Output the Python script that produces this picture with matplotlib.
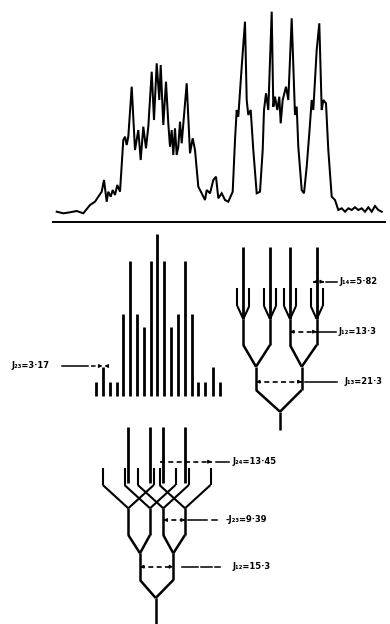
import matplotlib
matplotlib.use("Agg")
import matplotlib.pyplot as plt

# ---------------- data (pixel units) ----------------
# experimental spectrum trace
trace_x = [56.7, 63.3, 70, 76.7, 83.3, 90, 95, 98.3, 101.7, 104, 106.7, 108.3, 110.7, 112.7, 115,
           117.3, 120, 123.3, 125, 126.7, 128.3, 131.7, 135, 138.3, 140.7, 143.3, 146, 148.3, 151.7,
           154, 156.7, 159.3, 160.7, 163.3, 166, 168.3, 170, 171.7, 173.3, 175, 176.7, 178.3, 180,
           181.7, 186.7, 190, 192.7, 195, 198.3, 201.7, 205, 206.7, 210, 213.3, 216, 218.3, 221.7,
           225, 228.3, 232.7, 235, 236.7, 238.3, 241.7, 245, 246.7, 248.3, 250.7, 253.3, 256.7, 260,
           262.7, 264, 266, 268.3, 271.7, 273.3, 275, 277.3, 279.3, 280.7, 282.7, 286, 288.3, 291.7,
           295, 296.7, 298.3, 301.7, 304, 306.7, 309.3, 311.7, 313.3, 316.7, 319.3, 321.7, 323.3,
           326, 328.3, 331.7, 335, 338.3, 341.7, 345, 348.3, 351.7, 355, 358.3, 361.7, 365, 368.3,
           371.7, 375, 378.3, 381.7]
trace_y = [211.7, 213.3, 212.3, 211, 213.3, 205, 201.7, 196.7, 191.7, 180, 201.7, 191.7, 196.7,
           190, 195, 185, 191.7, 140, 136.7, 145, 136.7, 86.7, 150, 130, 160, 126.7, 148.3, 126.7,
           71.7, 120, 63.3, 100, 65, 125, 81.7, 123.3, 146.7, 130, 155, 128.3, 155, 146.7, 121.7,
           143.3, 83.3, 153.3, 138.3, 150, 186.7, 193.3, 200, 190, 193.3, 180, 176.7, 198.3, 193.3,
           200, 201.7, 191.7, 140, 110, 116.7, 66.7, 21.7, 100, 115, 110, 150, 193.3, 191.7, 150,
           110, 93.3, 110, 11.7, 106.7, 96.7, 110, 96.7, 123.3, 100, 86.7, 100, 18.3, 115, 106.7,
           146.7, 190, 193.3, 166.7, 133.3, 100, 110, 50, 23.3, 110, 100, 103.3, 150, 196.7, 200,
           210, 208.3, 211.7, 208.3, 210, 207.3, 210, 208.3, 211.7, 207.3, 211.7, 206, 210, 211.7]
baseline_x = [53, 385]
baseline_y = 221.7

# calculated stick spectrum
stick_pos = [96, 103.3, 110, 116.7, 123.3, 130, 136.7, 144, 150.7, 157.3,
             164, 170.7, 178.3, 185, 191.7, 198.3, 205, 212.5, 219.5]
stick_height = [14, 29, 14, 14, 82, 135, 82, 69, 135, 162,
                135, 69, 82, 135, 82, 14, 14, 29, 14]
stick_base = 396

# top-right splitting tree
top_root_x = 280
top_l1_x = [256, 301.7]
top_l2_x = [243.3, 270, 290, 316.7]
top_l2_parent = [0, 0, 1, 1]
top_prong = 6.0

# bottom splitting tree
bot_root_x = 155.7
bot_l1_x = [140, 173.3]
bot_l2_x = [128.3, 150, 163.3, 185]
bot_l2_parent = [0, 0, 1, 1]
bot_prong = 25.5

# coupling labels
labels = ["J₁₄=5·82", "J₁₂=13·3", "J₁₃=21·3", "J₂₃=3·17",
          "J₂₄=13·45", "-J₂₃=9·39", "J₁₂=15·3"]

# ---------------- layout ----------------
fig = plt.figure(figsize=(3.9, 6.24), dpi=100)
ax = fig.add_axes([0, 0, 1, 1])
ax.set_xlim(0, 390)
ax.set_ylim(624, 0)
ax.axis("off")

K = "black"
LW = 1.8
FS = 6.0
FAM = ["DejaVu Sans"]

# spectrum
ax.plot(trace_x, trace_y, color=K, lw=1.45, solid_joinstyle="miter")
ax.plot(baseline_x, [baseline_y, baseline_y], color=K, lw=1.4)

# sticks
ax.vlines(stick_pos, [stick_base - h for h in stick_height],
          [stick_base] * len(stick_pos), color=K, lw=2.0)


def seg(x0, y0, x1, y1, lw=LW):
    ax.plot([x0, x1], [y0, y1], color=K, lw=lw, solid_capstyle="butt")


# top tree geometry (y levels)
t_stem = (430, 411.7)
t_l1 = (390, 366.7)
t_l2 = (345, 319)
t_pr = (306, 288)
t_top = 246.7
seg(top_root_x, t_stem[0], top_root_x, t_stem[1])
for x in top_l1_x:
    seg(top_root_x, t_stem[1], x, t_l1[0])
    seg(x, t_l1[0], x, t_l1[1])
for x, p in zip(top_l2_x, top_l2_parent):
    seg(top_l1_x[p], t_l1[1], x, t_l2[0])
    seg(x, t_l2[0], x, t_l2[1])
    seg(x, t_l2[1], x, t_top, lw=2.0)
    for s in (-1, 1):
        seg(x, t_l2[1], x + s * top_prong, t_pr[0], lw=1.5)
        seg(x + s * top_prong, t_pr[0], x + s * top_prong, t_pr[1], lw=1.5)

# bottom tree geometry
b_stem = (624, 598)
b_l1 = (580, 553.3)
b_l2 = (535, 508.3)
b_pr = (485, 468.3)
b_center = (483, 427)
seg(bot_root_x, b_stem[0], bot_root_x, b_stem[1])
for x in bot_l1_x:
    seg(bot_root_x, b_stem[1], x, b_l1[0])
    seg(x, b_l1[0], x, b_l1[1])
for x, p in zip(bot_l2_x, bot_l2_parent):
    seg(bot_l1_x[p], b_l1[1], x, b_l2[0])
    seg(x, b_l2[0], x, b_l2[1])
    seg(x, b_center[0], x, b_center[1], lw=2.0)
    for s in (-1, 1):
        seg(x, b_l2[1], x + s * bot_prong, b_pr[0], lw=1.5)
        seg(x + s * bot_prong, b_pr[0], x + s * bot_prong, b_pr[1], lw=1.5)


def head(xe, y, direction):
    ax.annotate("", xy=(xe, y), xytext=(xe - direction * 4, y),
                arrowprops=dict(arrowstyle="-|>", color=K, lw=0.8,
                                mutation_scale=5, shrinkA=0, shrinkB=0))


def measure(x0, x1, y, leader, tx, text, heads=True):
    ax.plot([x0, x1], [y, y], color=K, lw=1.2, ls=(0, (3, 2)))
    if heads:
        head(x0, y, -1)
        head(x1, y, 1)
    for (a, b) in leader:
        ax.plot([a, b], [y, y], color=K, lw=1.1)
    ax.text(tx, y, text, ha="left", va="center", fontsize=FS,
            fontweight="bold", family=FAM, color=K)


measure(313, 324, 281.7, [(326, 337)], 339, labels[0])
measure(290, 316.7, 331.7, [(319, 336)], 338, labels[1])
measure(256, 301.7, 381.7, [(305, 337)], 344, labels[2])
measure(160, 211.7, 461.7, [(216, 229)], 232, labels[4])
measure(163.3, 185, 520, [(188, 206.7), (211.7, 217)], 225, labels[5])
measure(140, 173.3, 566.7, [(181.7, 198), (201, 212), (215, 220)], 232, labels[6])

# J23 leader on the stick spectrum (points at the first medium stick)
ax.plot([62, 88], [366, 366], color=K, lw=1.1)
ax.plot([91, 100], [366, 366], color=K, lw=1.1, ls=(0, (3, 2)))
head(102.5, 366, 1)
head(104.5, 366, -1)
ax.text(11, 366, labels[3], ha="left", va="center", fontsize=FS,
        fontweight="bold", family=FAM, color=K)

fig.savefig("out.png", dpi=100, facecolor="white")
